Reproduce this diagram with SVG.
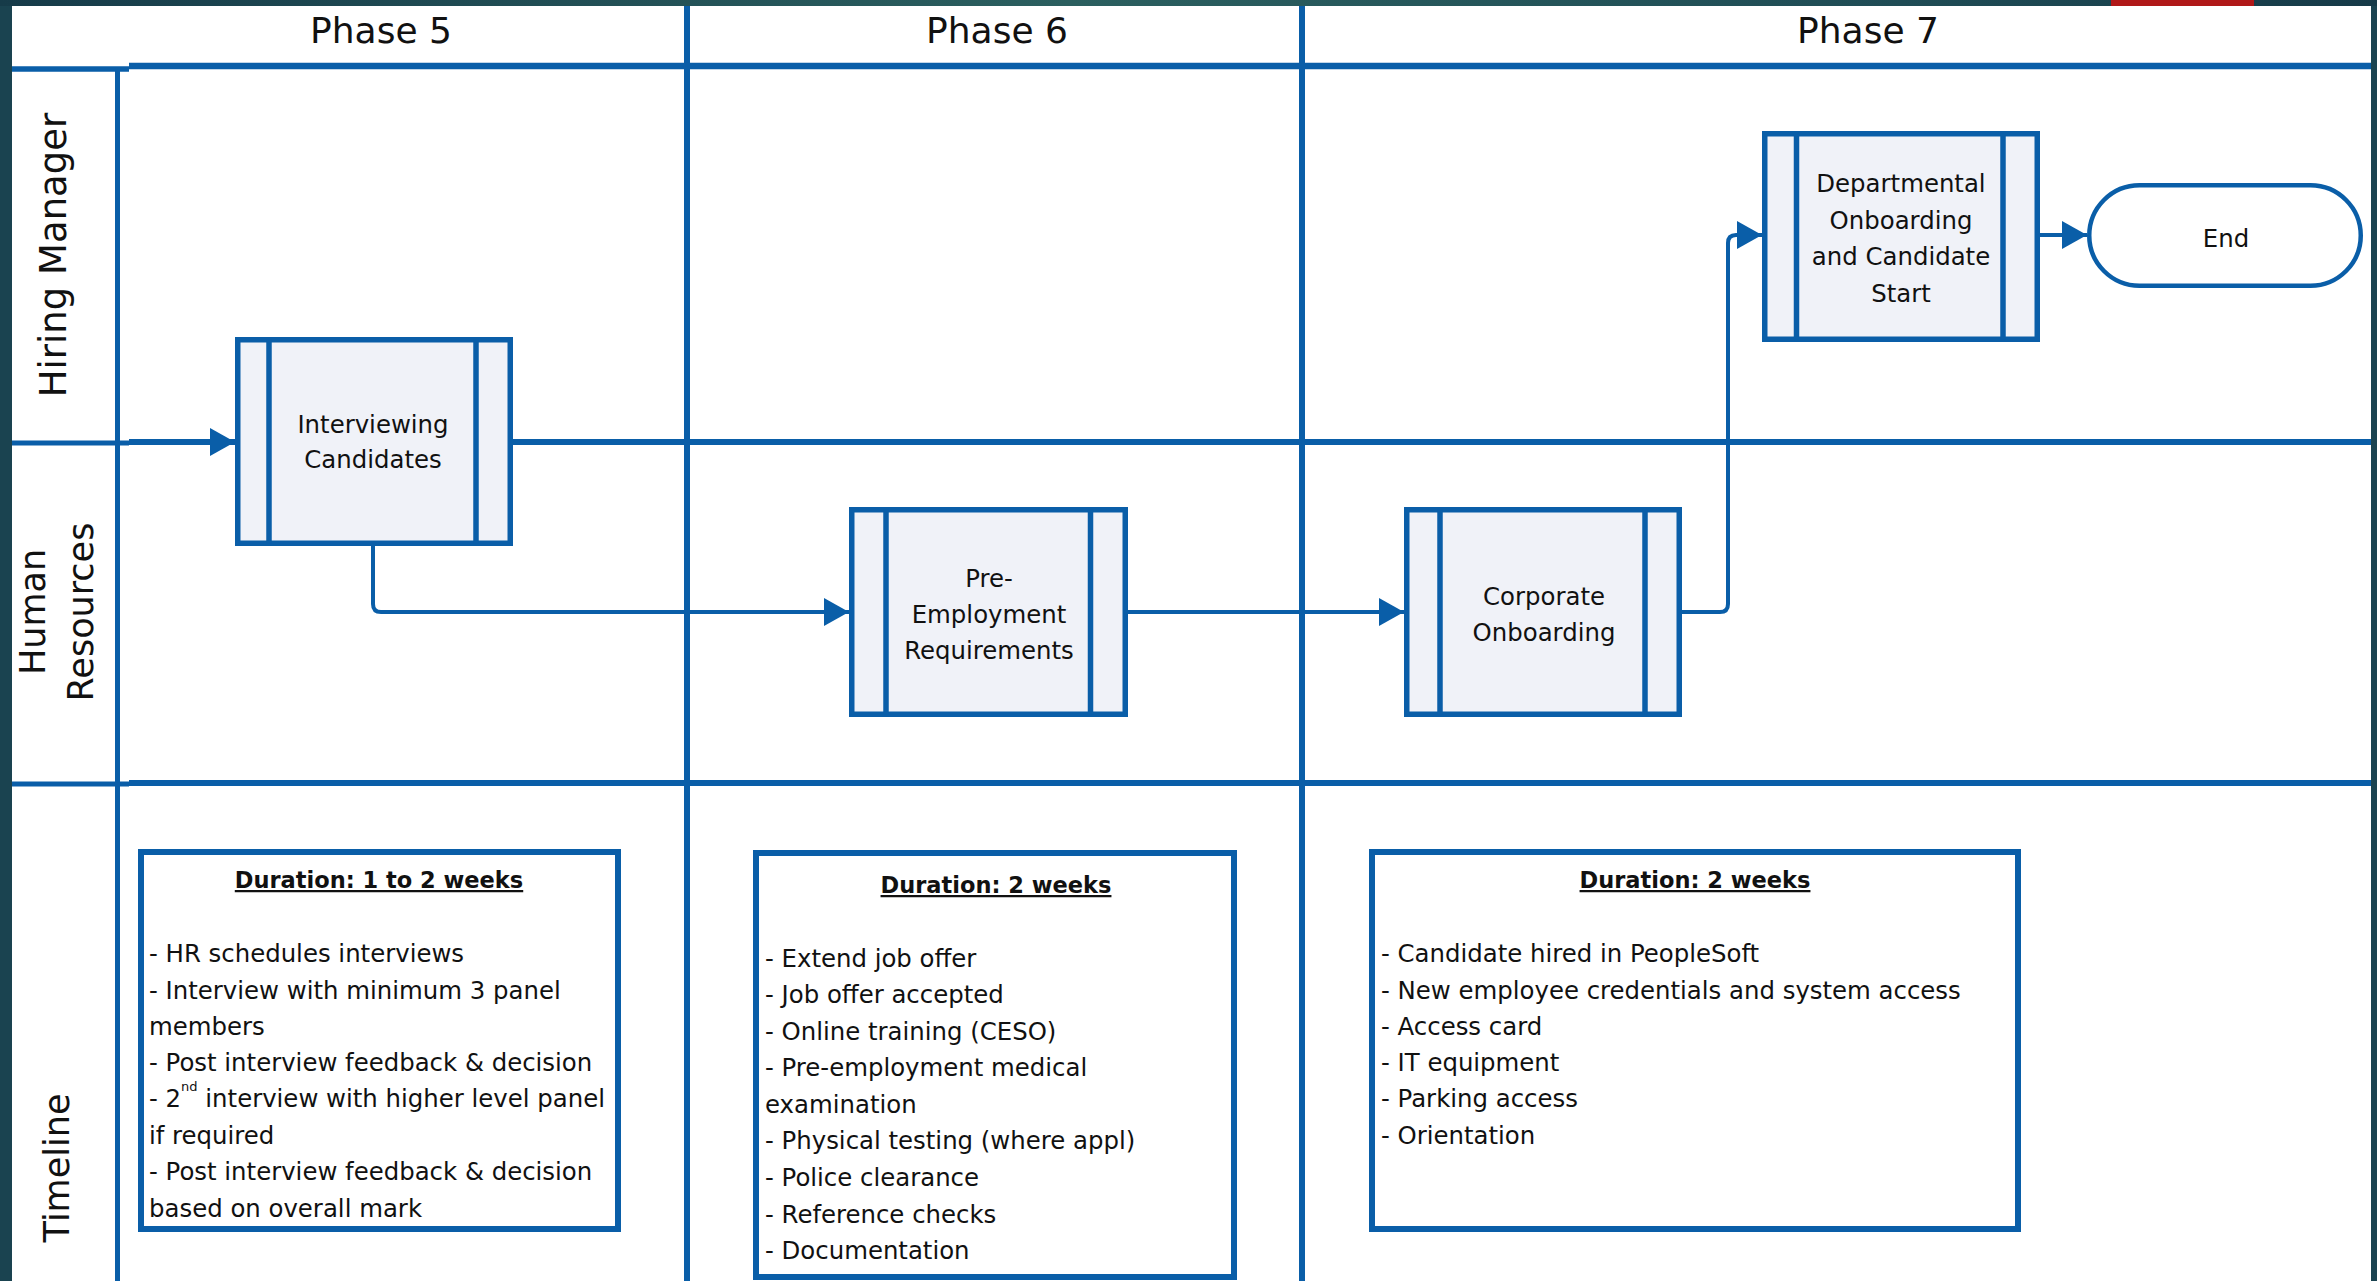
<svg xmlns="http://www.w3.org/2000/svg" width="2377" height="1281" viewBox="0 0 2377 1281">
  <defs>
    <linearGradient id="topg" x1="0" y1="0" x2="1" y2="0">
      <stop offset="0" stop-color="#163b49"/>
      <stop offset="0.45" stop-color="#2b5f5f"/>
      <stop offset="0.8" stop-color="#1f4c55"/>
      <stop offset="1" stop-color="#163a48"/>
    </linearGradient>
    <marker id="arr" markerUnits="userSpaceOnUse" markerWidth="27" markerHeight="30" refX="25" refY="14" orient="auto">
      <path d="M0,0 L25,14 L0,28 z" fill="#0a5ea8"/>
    </marker>
  </defs>
  <style>
    .grid { stroke: #0a5ea8; fill: none; }
    .proc { fill: #f0f2f8; stroke: #0a5ea8; stroke-width: 5.5; }
    .inner { stroke: #0a5ea8; stroke-width: 5.5; }
    .term { fill: #ffffff; stroke: #0a5ea8; stroke-width: 4.5; }
    .tbox { fill: #ffffff; stroke: #0a5ea8; stroke-width: 6; }
    .conn { stroke: #0a5ea8; stroke-width: 4; fill: none; }
    text { font-family: "DejaVu Sans", Verdana, sans-serif; fill: #111111; }
    .phase { font-size: 36px; text-anchor: middle; }
    .lane { font-size: 35px; text-anchor: middle; }
    .ptxt { font-size: 24.4px; text-anchor: middle; }
    .head { font-size: 22.5px; font-weight: bold; text-anchor: middle; text-decoration: underline; }
    .body { font-size: 24.4px; }
  </style>

  <!-- background frame -->
  <rect x="0" y="0" width="2377" height="1281" fill="#1a4350"/>
  <rect x="0" y="0" width="2377" height="6" fill="url(#topg)"/>
  <rect x="2111" y="0" width="143" height="6" fill="#b01818"/>
  <rect x="12" y="6" width="2359" height="1275" fill="#ffffff"/>

  <!-- swimlane grid -->
  <g id="grid">
    <line class="grid" x1="12" y1="69" x2="129" y2="69" stroke-width="5.5"/>
    <line class="grid" x1="129" y1="66" x2="2371" y2="66" stroke-width="6.5"/>
    <line class="grid" x1="117.5" y1="69" x2="117.5" y2="1281" stroke-width="5"/>
    <line class="grid" x1="687" y1="6" x2="687" y2="1281" stroke-width="6"/>
    <line class="grid" x1="1302" y1="6" x2="1302" y2="1281" stroke-width="6"/>
    <line class="grid" x1="12" y1="443" x2="129" y2="443" stroke-width="5"/>
    <line class="grid" x1="129" y1="442" x2="2371" y2="442" stroke-width="6"/>
    <line class="grid" x1="12" y1="784" x2="129" y2="784" stroke-width="5"/>
    <line class="grid" x1="129" y1="783" x2="2371" y2="783" stroke-width="6"/>
  </g>

  <!-- headers -->
  <g id="headers">
    <text class="phase" x="381" y="43">Phase 5</text>
    <text class="phase" x="997" y="43">Phase 6</text>
    <text class="phase" x="1868" y="43">Phase 7</text>
    <text class="lane" font-size="37" style="font-size:37px" transform="translate(66,255) rotate(-90)">Hiring Manager</text>
    <text class="lane" transform="translate(45,612) rotate(-90)">Human</text>
    <text class="lane" transform="translate(93,612) rotate(-90)">Resources</text>
    <text class="lane" transform="translate(69,1168) rotate(-90)">Timeline</text>
  </g>

  <!-- connectors -->
  <g id="connectors">
    <path class="conn" d="M129,442 H235" marker-end="url(#arr)"/>
    <path class="conn" d="M373,546 V604 Q373,612 381,612 H849" marker-end="url(#arr)"/>
    <path class="conn" d="M1128,612 H1404" marker-end="url(#arr)"/>
    <path class="conn" d="M1682,612 H1720 Q1728,612 1728,604 V243 Q1728,235 1736,235 H1762" marker-end="url(#arr)"/>
    <path class="conn" d="M2040,235 H2087" stroke-width="4.5" marker-end="url(#arr)"/>
  </g>

  <!-- process nodes -->
  <g id="interviewing">
    <rect class="proc" x="237.75" y="339.75" width="272.5" height="203.5"/>
    <line class="inner" x1="269" y1="339.75" x2="269" y2="543.25"/>
    <line class="inner" x1="476" y1="339.75" x2="476" y2="543.25"/>
    <text class="ptxt" x="373" y="433">Interviewing</text>
    <text class="ptxt" x="373" y="468">Candidates</text>
  </g>
  <g id="pre-employment">
    <rect class="proc" x="851.75" y="509.75" width="273.5" height="204.5"/>
    <line class="inner" x1="886" y1="509.75" x2="886" y2="714.25"/>
    <line class="inner" x1="1090.5" y1="509.75" x2="1090.5" y2="714.25"/>
    <text class="ptxt" x="989" y="587">Pre-</text>
    <text class="ptxt" x="989" y="623">Employment</text>
    <text class="ptxt" x="989" y="659">Requirements</text>
  </g>
  <g id="corporate">
    <rect class="proc" x="1406.75" y="509.75" width="272.5" height="204.5"/>
    <line class="inner" x1="1440" y1="509.75" x2="1440" y2="714.25"/>
    <line class="inner" x1="1645" y1="509.75" x2="1645" y2="714.25"/>
    <text class="ptxt" x="1544" y="605">Corporate</text>
    <text class="ptxt" x="1544" y="641">Onboarding</text>
  </g>
  <g id="departmental">
    <rect class="proc" x="1764.75" y="133.75" width="272.5" height="205.5"/>
    <line class="inner" x1="1796.5" y1="133.75" x2="1796.5" y2="339.25"/>
    <line class="inner" x1="2003" y1="133.75" x2="2003" y2="339.25"/>
    <text class="ptxt" x="1901" y="192">Departmental</text>
    <text class="ptxt" x="1901" y="228.5">Onboarding</text>
    <text class="ptxt" x="1901" y="265">and Candidate</text>
    <text class="ptxt" x="1901" y="301.5">Start</text>
  </g>
  <g id="end">
    <rect class="term" x="2089.25" y="185.25" width="271.5" height="100.5" rx="50.25" ry="50.25"/>
    <text class="ptxt" x="2226" y="247">End</text>
  </g>

  <!-- timeline notes -->
  <g id="timeline-phase5">
    <rect class="tbox" x="141" y="852" width="477" height="377"/>
    <text class="head" x="379" y="888">Duration: 1 to 2 weeks</text>
    <text class="body" x="149" y="962">- HR schedules interviews</text>
    <text class="body" x="149" y="998.5">- Interview with minimum 3 panel</text>
    <text class="body" x="149" y="1035">members</text>
    <text class="body" x="149" y="1071">- Post interview feedback &amp; decision</text>
    <text class="body" x="149" y="1107">- 2<tspan dy="-16" font-size="13">nd</tspan><tspan dy="16"> interview with higher level panel</tspan></text>
    <text class="body" x="149" y="1143.5">if required</text>
    <text class="body" x="149" y="1180">- Post interview feedback &amp; decision</text>
    <text class="body" x="149" y="1216.5">based on overall mark</text>
  </g>
  <g id="timeline-phase6">
    <rect class="tbox" x="756" y="853" width="478" height="424"/>
    <text class="head" x="996" y="893">Duration: 2 weeks</text>
    <text class="body" x="765" y="967">- Extend job offer</text>
    <text class="body" x="765" y="1003">- Job offer accepted</text>
    <text class="body" x="765" y="1039.5">- Online training (CESO)</text>
    <text class="body" x="765" y="1076">- Pre-employment medical</text>
    <text class="body" x="765" y="1112.5">examination</text>
    <text class="body" x="765" y="1149">- Physical testing (where appl)</text>
    <text class="body" x="765" y="1186">- Police clearance</text>
    <text class="body" x="765" y="1222.5">- Reference checks</text>
    <text class="body" x="765" y="1258.5">- Documentation</text>
  </g>
  <g id="timeline-phase7">
    <rect class="tbox" x="1372" y="852" width="646" height="377"/>
    <text class="head" x="1695" y="888">Duration: 2 weeks</text>
    <text class="body" x="1381" y="962">- Candidate hired in PeopleSoft</text>
    <text class="body" x="1381" y="998.5">- New employee credentials and system access</text>
    <text class="body" x="1381" y="1035">- Access card</text>
    <text class="body" x="1381" y="1071">- IT equipment</text>
    <text class="body" x="1381" y="1107">- Parking access</text>
    <text class="body" x="1381" y="1143.5">- Orientation</text>
  </g>
</svg>
